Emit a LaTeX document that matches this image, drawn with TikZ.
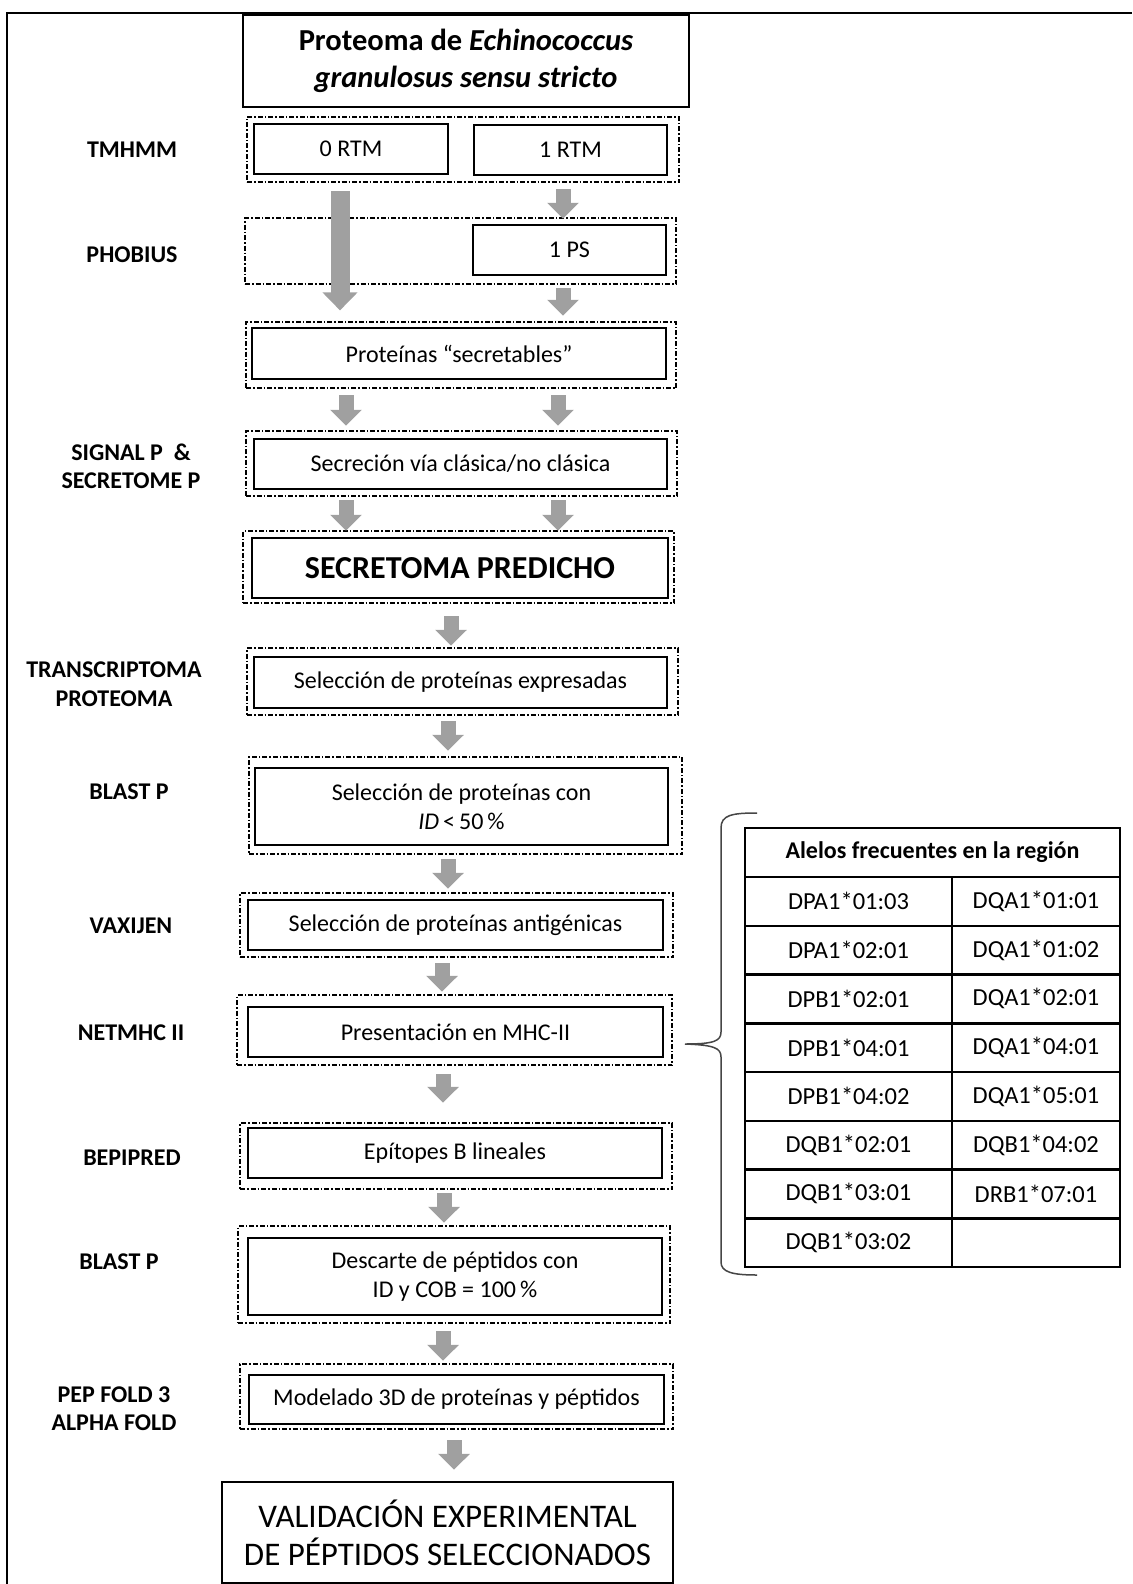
\documentclass[tikz,border=0pt]{standalone}
\usepackage{fontspec}
\setmainfont{Carlito}
\usetikzlibrary{arrows.meta,calc}
\newcommand\myfs[2]{\fontsize{#1}{#2}\selectfont}
\definecolor{agray}{RGB}{160,160,160}
\definecolor{bracegray}{RGB}{70,70,70}
\begin{document}
\begin{tikzpicture}[x=1pt,y=-1pt,
  sbox/.style={draw, line width=2.5pt, inner sep=0pt, align=center, font=\myfs{24}{29}},
  dbox/.style={draw, line width=1.2pt, dash pattern=on 5pt off 2pt on 1.5pt off 2pt, inner sep=0pt},
  lbl/.style={inner sep=0pt, align=center, font=\bfseries\myfs{24}{29}},
  blk/.style={draw=agray, line width=15pt, -{Triangle[length=16pt,width=31pt]}},
  tcell/.style={draw, line width=2.5pt, inner sep=0pt, minimum height=48.75pt, font=\myfs{24.5}{28}}]
\useasboundingbox (0,0) rectangle (1132,1584);
\fill[white] (0,0) rectangle (1132,1584);
% frame
\draw[line width=2.2pt] (1132,13) -- (7,13) -- (7,1584);

% title
\node[sbox, minimum width=446pt, minimum height=92pt, font=\bfseries\myfs{30.5}{37}] (prot) at (466,61)
  {Proteoma de \textit{Echinococcus}\\\textit{granulosus sensu stricto}};

% dashed groups
\node[dbox, minimum width=432pt, minimum height=65pt] (dtm) at (463,149.5) {};
\node[dbox, minimum width=431pt, minimum height=66pt] (dph) at (460.5,251) {};
\node[dbox, minimum width=430pt, minimum height=66pt] (dse) at (461,355) {};
\node[dbox, minimum width=431pt, minimum height=65pt] (dsig) at (461.5,463.5) {};
\node[dbox, minimum width=431pt, minimum height=72pt] (dsp) at (458.5,567) {};
\node[dbox, minimum width=431pt, minimum height=67pt] (dtr) at (462.5,681.5) {};
\node[dbox, minimum width=433pt, minimum height=97pt] (dbl) at (465.5,805.5) {};
\node[dbox, minimum width=433pt, minimum height=64pt] (dvx) at (456.5,925) {};
\node[dbox, minimum width=435pt, minimum height=70pt] (dnm) at (454.5,1030) {};
\node[dbox, minimum width=432pt, minimum height=66pt] (dbe) at (456,1156) {};
\node[dbox, minimum width=432pt, minimum height=97pt] (db2) at (454,1274.5) {};
\node[dbox, minimum width=433pt, minimum height=65pt] (dpf) at (456.5,1396.5) {};

% solid boxes
\node[sbox, minimum width=194pt, minimum height=50pt] (zero) at (351,149) {0 RTM};
\node[sbox, minimum width=193pt, minimum height=50pt] (one) at (570.5,150) {1 RTM};
\node[sbox, minimum width=193pt, minimum height=50pt] (ps) at (569.5,250) {1 PS};
\node[sbox, minimum width=414pt, minimum height=51pt] (secr) at (459,353.5) {Proteínas “secretables”};
\node[sbox, minimum width=413pt, minimum height=50pt] (sig) at (460.5,464) {Secreción vía clásica/no clásica};
\node[sbox, minimum width=416pt, minimum height=60pt, font=\bfseries\myfs{32}{38}] (sp) at (460,568) {SECRETOMA PREDICHO};
\node[sbox, minimum width=413pt, minimum height=51pt] (tr) at (460.5,682.5) {Selección de proteínas expresadas};
\node[sbox, minimum width=413pt, minimum height=77pt] (bl) at (461.5,806.5) {Selección de proteínas con\\\textit{ID}\,<\,50\,\%};
\node[sbox, minimum width=415pt, minimum height=50pt] (vx) at (455.5,925) {Selección de proteínas antigénicas};
\node[sbox, minimum width=415pt, minimum height=50pt] (nm) at (455.5,1032) {Presentación en MHC-II};
\node[sbox, minimum width=414pt, minimum height=50pt] (be) at (455,1153) {Epítopes B lineales};
\node[sbox, minimum width=414pt, minimum height=77pt] (b2) at (455,1276.5) {Descarte de péptidos con\\ID y COB = 100\,\%};
\node[sbox, minimum width=415pt, minimum height=49pt] (pf) at (456.5,1399.5) {Modelado 3D de proteínas y péptidos};
\node[sbox, minimum width=451pt, minimum height=101pt, font=\myfs{33}{38}] (val) at (447.5,1532.5)
  {VALIDACIÓN EXPERIMENTAL\\DE PÉPTIDOS SELECCIONADOS};

% left labels
\node[lbl] (ltm) at (132,150) {TMHMM};
\node[lbl] (lph) at (132,255) {PHOBIUS};
\node[lbl, font=\bfseries\myfs{24}{28}] (lsig) at (131,466) {SIGNAL P\ \ \&\\SECRETOME P};
\node[lbl] (ltr) at (114,684) {TRANSCRIPTOMA\\PROTEOMA};
\node[lbl] (lbl1) at (129,792) {BLAST P};
\node[lbl] (lvx) at (131,926) {VAXIJEN};
\node[lbl] (lnm) at (131,1033) {NETMHC II};
\node[lbl] (lbe) at (132,1158) {BEPIPRED};
\node[lbl] (lb2) at (119,1262) {BLAST P};
\node[lbl, font=\bfseries\myfs{24}{28}] (lpf) at (114,1409) {PEP FOLD 3\\ALPHA FOLD};

% arrows
\draw[blk, line width=19pt, -{Triangle[length=18pt,width=34pt]}] ($(zero.south)+(-11,16)$) -- ($(zero.south|-dse.north)+(-11,-11)$);
\draw[blk] ($(one.south)+(-7.5,13)$) -- ($(one.south|-ps.north)+(-7.5,-5)$);
\draw[blk] ($(ps.south)+(-6.5,12)$) -- ($(ps.south|-secr.north)+(-6.5,-11)$);
\draw[blk] ($(secr.south)+(-113,15)$) -- ($(secr.south|-sig.north)+(-113,-12)$);
\draw[blk] ($(secr.south)+(99,15)$) -- ($(secr.south|-sig.north)+(99,-12)$);
\draw[blk] ($(sig.south)+(-114.5,10)$) -- ($(sig.south|-sp.north)+(-114.5,-6)$);
\draw[blk] ($(sig.south)+(97.5,10)$) -- ($(sig.south|-sp.north)+(97.5,-6)$);
\draw[blk] ($(sp.south)+(-9,17)$) -- ($(sp.south|-tr.north)+(-9,-10)$);
\draw[blk] ($(tr.south)+(-12.5,12)$) -- ($(tr.south|-bl.north)+(-12.5,-16)$);
\draw[blk] ($(bl.south)+(-13.5,13)$) -- ($(bl.south|-vx.north)+(-13.5,-10)$);
\draw[blk] ($(vx.south)+(-13.5,12)$) -- ($(vx.south|-nm.north)+(-13.5,-14)$);
\draw[blk] ($(nm.south)+(-12.5,16)$) -- ($(nm.south|-be.north)+(-12.5,-24)$);
\draw[blk] ($(be.south)+(-11,14)$) -- ($(be.south|-b2.north)+(-11,-14)$);
\draw[blk] ($(b2.south)+(-12,15)$) -- ($(b2.south|-pf.north)+(-12,-13)$);
\draw[blk] ($(pf.south)+(-2.5,15)$) -- ($(pf.south|-val.north)+(-2.5,-11)$);

% brace
\coordinate (btip) at (685,1044);
\draw[bracegray, line width=1.5pt] (757,813) .. controls (732,813) and (721,815) .. (721,828)
  -- (721,1032) .. controls (721,1041) and (714,1044) .. (btip)
  .. controls (714,1045) and (721,1048) .. (721,1057)
  -- (721,1262) .. controls (721,1272) and (732,1275) .. (757,1275);

% table
\node[tcell, minimum width=375pt, font=\bfseries\myfs{24}{28}] (thead) at (932.5,852.5) {Alelos frecuentes en la región};
\foreach \i/\a/\b in {1/DPA1*01:03/DQA1*01:01, 2/DPA1*02:01/DQA1*01:02, 3/DPB1*02:01/DQA1*02:01,
  4/DPB1*04:01/DQA1*04:01, 5/DPB1*04:02/DQA1*05:01, 6/DQB1*02:01/DQB1*04:02,
  7/DQB1*03:01/DRB1*07:01, 8/DQB1*03:02/{}} {
  \node[tcell, minimum width=207pt] (ca\i) at (848.5,{877+48.75*(\i-0.5)}) {\a};
  \node[tcell, minimum width=168pt] (cb\i) at (1036,{877+48.75*(\i-0.5)}) {\b};
}
\end{tikzpicture}
\end{document}
